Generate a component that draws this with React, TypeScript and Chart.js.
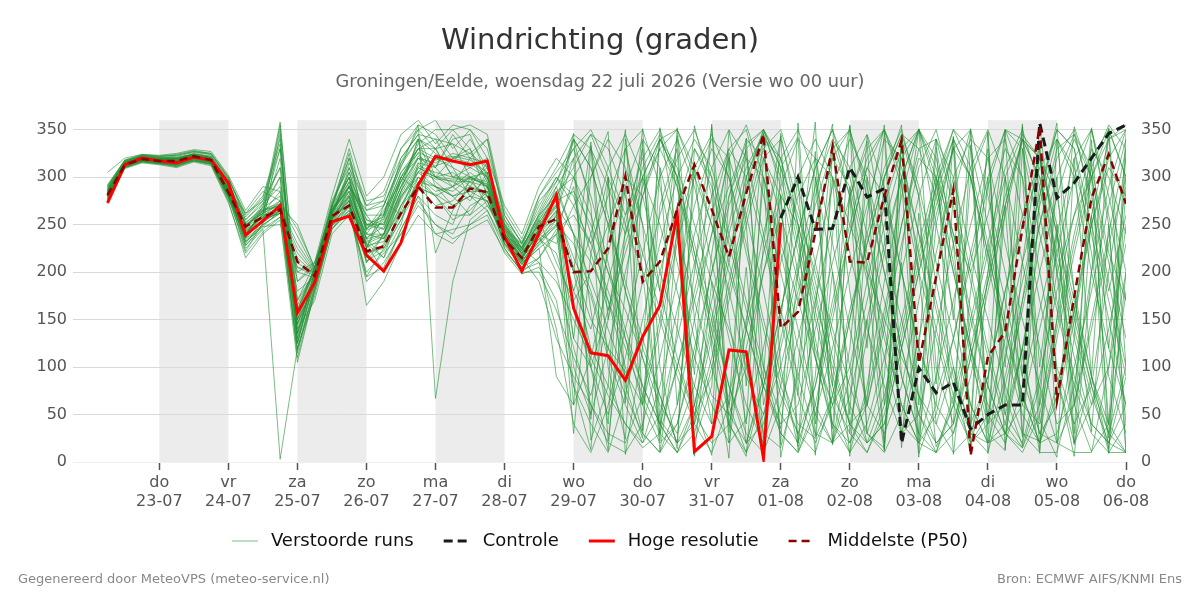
import { useEffect, useRef } from "react";
import { Chart, registerables } from "chart.js";

Chart.register(...registerables);
Chart.defaults.font.family = "'DejaVu Sans', sans-serif";

// Forecast hours since 22-07 00:00, 6-hourly steps
const hours = [
  6, 12, 18, 24, 30, 36, 42, 48, 54, 60,
  66, 72, 78, 84, 90, 96, 102, 108, 114, 120,
  126, 132, 138, 144, 150, 156, 162, 168, 174, 180,
  186, 192, 198, 204, 210, 216, 222, 228, 234, 240,
  246, 252, 258, 264, 270, 276, 282, 288, 294, 300,
  306, 312, 318, 324, 330, 336, 342, 348, 354, 360,
];

// Midnight tick positions and their labels
const dayTicks = [24, 48, 72, 96, 120, 144, 168, 192, 216, 240, 264, 288, 312, 336, 360];
const dayNames = ["do", "vr", "za", "zo", "ma", "di", "wo", "do", "vr", "za", "zo", "ma", "di", "wo", "do"];
const dayDates = ["23-07", "24-07", "25-07", "26-07", "27-07", "28-07", "29-07", "30-07", "31-07", "01-08", "02-08", "03-08", "04-08", "05-08", "06-08"];

// Alternating grey day bands (start hour, end hour)
const shadedSpans: [number, number][] = [
  [24, 48], [72, 96], [120, 144], [168, 192], [216, 240], [264, 288], [312, 336],
];

// High resolution run (until 01-08 00:00)
const hiRes = [
  273, 313, 320, 317, 315, 321, 318, 294, 239, 254,
  270, 157, 189, 253, 259, 218, 201, 231, 292, 322,
  317, 313, 317, 237, 201, 241, 281, 162, 115, 112,
  86, 132, 165, 262, 11, 27, 118, 116, 4, 252,
];

// Control run (shown from 01-08 00:00)
const controlHours = [240, 246, 252, 258, 264, 270, 276, 282, 288, 294, 300, 306, 312, 318, 324, 330, 336, 342, 348, 354, 360];
const control = [257, 300, 245, 246, 310, 279, 288, 20, 99, 73, 84, 35, 50, 60, 60, 357, 278, 294, 320, 346, 355];

// Ensemble median
const p50 = [
  281, 313, 319, 317, 317, 322, 318, 284, 248, 258,
  266, 211, 196, 259, 270, 222, 227, 262, 290, 268,
  268, 288, 284, 234, 215, 248, 256, 200, 201, 225,
  301, 190, 211, 266, 313, 266, 216, 283, 345, 141,
  158, 241, 332, 211, 210, 280, 339, 104, 195, 287,
  7, 111, 137, 246, 353, 65, 174, 278, 324, 272,
];

// Perturbed ensemble members
const m01 = [288, 315, 321, 319, 320, 324, 322, 295, 250, 265, 270, 135, 200, 258, 275, 235, 215, 270, 305, 330, 300, 295, 310, 250, 220, 245, 270, 205, 150, 120, 95, 60, 140, 230, 300, 340, 320, 260, 180, 90, 40, 25, 70, 160, 230, 300, 345, 330, 280, 200, 120, 60, 30, 15, 80, 200, 260, 300, 340, 355];
const m02 = [275, 311, 317, 315, 312, 318, 315, 280, 238, 255, 262, 160, 205, 265, 300, 210, 240, 300, 330, 340, 310, 280, 265, 230, 205, 230, 255, 180, 240, 310, 345, 300, 250, 180, 110, 60, 20, 45, 120, 210, 280, 320, 300, 250, 200, 150, 110, 70, 40, 10, 30, 90, 180, 250, 310, 340, 300, 200, 120, 60];
const m03 = [282, 314, 320, 318, 316, 321, 317, 285, 228, 250, 345, 125, 195, 270, 320, 245, 260, 320, 345, 300, 320, 330, 280, 240, 225, 210, 190, 150, 110, 70, 40, 15, 30, 100, 170, 240, 290, 335, 350, 310, 260, 200, 140, 80, 30, 10, 50, 130, 220, 300, 340, 320, 230, 150, 80, 20, 10, 10, 100, 250];
const m04 = [292, 318, 323, 322, 323, 327, 325, 300, 255, 275, 330, 145, 190, 250, 290, 265, 275, 260, 290, 280, 290, 320, 340, 260, 230, 270, 300, 270, 230, 280, 330, 350, 290, 210, 130, 70, 50, 100, 200, 280, 250, 180, 90, 40, 60, 150, 250, 320, 300, 210, 110, 40, 60, 170, 290, 350, 330, 220, 90, 30];
const m05 = [279, 312, 318, 316, 315, 319, 316, 283, 242, 260, 355, 170, 210, 260, 270, 230, 200, 245, 280, 260, 250, 300, 305, 235, 210, 225, 240, 300, 330, 260, 180, 120, 70, 20, 60, 150, 240, 310, 345, 300, 220, 130, 40, 10, 80, 190, 280, 350, 300, 240, 200, 260, 330, 300, 200, 100, 40, 80, 200, 320];
const m06 = [284, 313, 320, 319, 314, 323, 319, 288, 232, 248, 250, 205, 200, 255, 310, 255, 250, 290, 320, 310, 340, 345, 300, 245, 215, 255, 210, 170, 200, 250, 300, 280, 200, 140, 80, 40, 70, 150, 240, 320, 350, 300, 200, 100, 20, 40, 120, 200, 270, 330, 350, 280, 200, 110, 30, 60, 150, 250, 310, 280];
const m07 = [276, 310, 316, 314, 312, 317, 314, 278, 225, 245, 3, 120, 185, 245, 265, 195, 225, 255, 300, 290, 280, 260, 290, 225, 200, 200, 160, 110, 70, 150, 230, 290, 330, 350, 310, 250, 180, 100, 30, 15, 90, 170, 250, 310, 345, 290, 200, 120, 70, 130, 220, 300, 350, 340, 260, 170, 90, 40, 20, 90];
const m08 = [290, 317, 322, 321, 322, 326, 324, 298, 258, 278, 335, 135, 195, 265, 295, 250, 245, 285, 340, 220, 265, 290, 315, 255, 225, 280, 305, 330, 280, 210, 130, 60, 20, 40, 110, 200, 270, 320, 300, 230, 170, 110, 60, 100, 190, 270, 330, 350, 250, 160, 60, 20, 30, 120, 230, 300, 345, 310, 220, 170];
const m09 = [281, 313, 319, 317, 317, 322, 318, 285, 248, 258, 275, 110, 180, 250, 280, 225, 270, 310, 355, 67, 190, 255, 270, 240, 220, 245, 290, 240, 190, 140, 90, 130, 200, 270, 330, 290, 210, 140, 80, 40, 60, 140, 210, 280, 330, 350, 310, 240, 170, 90, 40, 90, 180, 260, 320, 280, 180, 90, 40, 10];
const m10 = [286, 315, 321, 320, 319, 323, 320, 290, 236, 270, 300, 150, 205, 272, 325, 240, 265, 295, 335, 350, 350, 330, 295, 245, 230, 260, 280, 310, 345, 300, 250, 200, 150, 90, 40, 10, 60, 140, 220, 290, 340, 320, 230, 140, 60, 30, 80, 170, 260, 330, 300, 210, 120, 50, 20, 70, 160, 260, 340, 350];
const m11 = [278, 312, 318, 316, 313, 320, 316, 276, 245, 272, 310, 130, 200, 262, 290, 260, 235, 265, 310, 300, 295, 285, 275, 238, 212, 232, 260, 200, 120, 80, 40, 20, 50, 130, 210, 280, 330, 300, 230, 150, 70, 20, 60, 150, 240, 310, 350, 280, 190, 100, 30, 10, 80, 160, 250, 330, 345, 280, 190, 100];
const m12 = [283, 314, 320, 318, 318, 321, 317, 286, 262, 285, 275, 200, 210, 268, 285, 235, 255, 300, 285, 320, 310, 300, 290, 250, 228, 250, 275, 285, 250, 200, 160, 110, 60, 30, 80, 170, 250, 330, 350, 290, 200, 110, 40, 20, 70, 160, 250, 330, 340, 270, 190, 110, 40, 15, 60, 150, 240, 320, 350, 300];
const m13 = [280, 313, 319, 317, 316, 320, 318, 282, 222, 252, 265, 140, 170, 240, 260, 200, 220, 240, 270, 250, 240, 270, 280, 230, 215, 190, 130, 90, 60, 30, 20, 70, 150, 240, 310, 345, 300, 220, 140, 70, 30, 80, 170, 250, 320, 350, 290, 200, 130, 60, 20, 40, 110, 190, 270, 340, 310, 240, 150, 60];
const m14 = [287, 316, 322, 320, 321, 324, 321, 292, 252, 268, 358, 160, 200, 270, 300, 260, 260, 305, 330, 330, 300, 310, 320, 242, 222, 262, 295, 330, 350, 310, 260, 300, 340, 310, 250, 190, 140, 90, 50, 100, 180, 250, 320, 290, 210, 130, 60, 20, 50, 130, 210, 290, 350, 330, 240, 160, 80, 30, 10, 40];
const m15 = [277, 311, 317, 315, 311, 319, 315, 280, 240, 262, 285, 125, 190, 255, 275, 210, 230, 280, 300, 280, 255, 265, 285, 235, 208, 235, 250, 230, 180, 120, 70, 30, 10, 40, 120, 200, 280, 340, 320, 260, 190, 120, 60, 10, 40, 110, 200, 280, 340, 300, 220, 150, 80, 30, 10, 10, 80, 200, 290, 350];
const m16 = [289, 317, 323, 321, 320, 325, 322, 296, 248, 265, 270, 180, 195, 268, 320, 275, 280, 320, 345, 340, 335, 300, 270, 248, 218, 240, 230, 270, 300, 340, 310, 250, 180, 110, 50, 20, 40, 120, 200, 260, 300, 340, 300, 220, 140, 80, 30, 50, 140, 230, 310, 350, 300, 210, 120, 40, 60, 140, 230, 300];
const m17 = [282, 314, 319, 318, 315, 322, 318, 284, 230, 255, 268, 115, 185, 252, 270, 230, 215, 250, 315, 310, 290, 275, 305, 228, 205, 215, 240, 130, 100, 160, 220, 280, 330, 290, 220, 150, 80, 30, 10, 60, 130, 210, 290, 340, 300, 220, 150, 70, 20, 40, 120, 200, 280, 340, 320, 250, 170, 90, 30, 10];
const m18 = [285, 315, 321, 319, 319, 323, 319, 288, 244, 258, 320, 145, 200, 260, 305, 250, 250, 295, 330, 310, 345, 320, 300, 244, 226, 258, 285, 300, 260, 200, 140, 80, 40, 100, 180, 260, 330, 350, 280, 200, 120, 50, 20, 70, 150, 230, 300, 350, 310, 230, 150, 80, 30, 60, 140, 220, 300, 350, 260, 170];
const m19 = [280, 312, 318, 317, 317, 321, 317, 281, 235, 250, 262, 155, 205, 258, 280, 240, 235, 270, 290, 270, 275, 295, 280, 238, 215, 235, 220, 160, 100, 50, 110, 190, 260, 320, 350, 300, 230, 160, 90, 30, 10, 60, 150, 240, 310, 280, 200, 120, 60, 30, 90, 180, 260, 340, 300, 210, 130, 60, 100, 200];
const m20 = [290, 317, 323, 322, 324, 328, 325, 300, 260, 280, 340, 135, 195, 268, 330, 265, 270, 315, 350, 360, 330, 350, 330, 260, 230, 275, 295, 340, 310, 250, 190, 130, 70, 20, 40, 110, 190, 270, 340, 320, 250, 170, 100, 40, 10, 50, 130, 210, 290, 350, 310, 230, 150, 70, 20, 30, 100, 180, 270, 340];
const m21 = [274, 310, 316, 314, 311, 317, 313, 275, 215, 240, 255, 105, 180, 245, 270, 195, 205, 245, 280, 240, 230, 250, 260, 220, 198, 205, 170, 80, 40, 10, 70, 150, 230, 300, 340, 310, 240, 170, 100, 50, 20, 80, 160, 240, 310, 350, 300, 220, 140, 70, 20, 50, 130, 210, 280, 350, 330, 250, 170, 90];
const m22 = [283, 314, 320, 318, 317, 322, 318, 286, 238, 262, 350, 140, 195, 262, 300, 225, 260, 305, 325, 300, 290, 305, 290, 244, 220, 250, 270, 240, 210, 170, 120, 70, 30, 10, 60, 140, 220, 300, 350, 310, 230, 150, 70, 30, 10, 60, 140, 220, 290, 340, 300, 220, 140, 60, 40, 130, 220, 300, 350, 300];
const m23 = [288, 316, 322, 320, 320, 324, 321, 294, 255, 272, 290, 170, 200, 265, 290, 255, 245, 290, 340, 325, 315, 340, 310, 252, 225, 260, 290, 320, 345, 330, 280, 220, 160, 100, 50, 90, 170, 250, 320, 340, 270, 190, 110, 40, 20, 70, 150, 230, 300, 350, 330, 250, 170, 90, 30, 20, 60, 150, 240, 330];
const m24 = [279, 312, 318, 316, 314, 319, 316, 280, 246, 268, 280, 150, 185, 255, 285, 245, 270, 315, 340, 290, 270, 280, 300, 236, 210, 238, 200, 120, 60, 20, 10, 40, 110, 190, 270, 330, 300, 230, 150, 80, 30, 10, 70, 150, 230, 300, 345, 290, 210, 130, 60, 20, 40, 120, 200, 280, 340, 300, 210, 130];
const m25 = [284, 313, 320, 319, 318, 323, 320, 287, 250, 262, 330, 160, 205, 270, 315, 270, 275, 330, 355, 345, 320, 325, 340, 255, 232, 265, 300, 280, 220, 160, 240, 310, 345, 290, 210, 130, 50, 20, 80, 160, 240, 310, 350, 300, 220, 140, 60, 20, 10, 70, 150, 230, 310, 350, 290, 200, 110, 40, 20, 60];
const m26 = [286, 315, 321, 319, 320, 324, 320, 290, 240, 252, 272, 125, 195, 258, 280, 220, 225, 260, 295, 280, 260, 260, 275, 232, 212, 228, 250, 180, 140, 220, 290, 340, 310, 240, 170, 100, 40, 10, 50, 130, 210, 290, 340, 310, 240, 170, 90, 30, 10, 60, 140, 220, 300, 345, 320, 240, 150, 80, 30, 100];
const m27 = [281, 313, 319, 317, 316, 321, 317, 283, 232, 248, 265, 145, 190, 250, 265, 215, 240, 285, 320, 300, 305, 290, 285, 240, 214, 242, 265, 215, 175, 110, 60, 20, 80, 160, 240, 310, 350, 320, 240, 160, 90, 30, 20, 90, 170, 250, 320, 350, 290, 200, 120, 50, 20, 80, 160, 240, 320, 350, 280, 200];
const m28 = [277, 311, 317, 315, 313, 318, 314, 279, 240, 265, 300, 130, 188, 256, 290, 235, 240, 280, 305, 290, 285, 300, 290, 236, 208, 225, 90, 60, 110, 190, 260, 320, 350, 300, 230, 160, 80, 20, 40, 120, 200, 270, 330, 350, 280, 200, 120, 50, 20, 40, 110, 190, 270, 340, 320, 240, 160, 80, 10, 10];
const m29 = [291, 318, 324, 322, 323, 327, 324, 298, 262, 275, 310, 190, 205, 275, 310, 270, 285, 330, 350, 330, 350, 355, 345, 265, 235, 280, 310, 345, 330, 290, 240, 300, 340, 350, 300, 250, 200, 140, 80, 30, 10, 50, 120, 200, 270, 340, 320, 240, 160, 80, 30, 20, 90, 170, 250, 320, 350, 270, 180, 260];
const m30 = [280, 312, 319, 317, 316, 321, 317, 283, 236, 255, 265, 120, 175, 248, 275, 165, 190, 230, 260, 240, 245, 250, 265, 225, 200, 215, 245, 260, 230, 180, 130, 80, 40, 10, 30, 100, 180, 260, 330, 350, 290, 210, 130, 60, 20, 40, 120, 200, 280, 340, 300, 220, 140, 70, 20, 80, 160, 250, 320, 350];
const m31 = [305, 320, 324, 323, 325, 329, 327, 302, 265, 290, 285, 190, 210, 280, 340, 280, 300, 345, 360, 335, 355, 350, 320, 270, 240, 290, 320, 300, 240, 170, 100, 30, 10, 60, 150, 240, 320, 355, 300, 220, 140, 60, 20, 40, 130, 220, 300, 350, 320, 240, 160, 80, 30, 10, 50, 140, 230, 310, 355, 330];
const m32 = [272, 309, 315, 313, 310, 316, 312, 273, 220, 242, 258, 118, 182, 246, 262, 190, 210, 240, 275, 250, 235, 245, 255, 222, 202, 210, 140, 40, 10, 60, 140, 220, 300, 340, 290, 210, 130, 60, 20, 80, 170, 250, 320, 350, 290, 200, 120, 50, 10, 30, 110, 190, 270, 340, 300, 220, 140, 70, 20, 10];
const m33 = [283, 313, 319, 317, 315, 321, 317, 285, 245, 257, 268, 150, 198, 260, 285, 240, 240, 285, 315, 295, 280, 285, 285, 240, 216, 240, 260, 340, 310, 250, 180, 110, 40, 10, 50, 130, 210, 290, 350, 320, 240, 160, 80, 20, 60, 140, 230, 310, 350, 280, 200, 120, 50, 20, 90, 180, 260, 330, 300, 240];
const m34 = [285, 314, 320, 318, 318, 322, 319, 287, 250, 262, 272, 165, 203, 263, 295, 250, 258, 300, 330, 320, 320, 315, 300, 247, 223, 252, 280, 100, 50, 120, 200, 280, 340, 300, 220, 140, 60, 10, 80, 160, 240, 310, 350, 280, 190, 110, 40, 20, 90, 170, 250, 320, 340, 260, 170, 90, 20, 60, 140, 230];
const m35 = [280, 313, 318, 316, 316, 320, 316, 284, 236, 256, 262, 215, 198, 256, 272, 228, 232, 270, 300, 285, 290, 300, 292, 238, 214, 244, 262, 320, 45, 300, 62, 338, 22, 250, 92, 356, 31, 205, 8, 282, 70, 327, 18, 290, 120, 347, 15, 262, 82, 342, 33, 300, 100, 353, 12, 240, 60, 318, 25, 290];
const m36 = [283, 314, 320, 318, 316, 322, 318, 286, 241, 260, 268, 230, 202, 262, 290, 236, 248, 290, 322, 312, 318, 310, 300, 243, 219, 248, 272, 60, 333, 100, 24, 300, 180, 344, 40, 220, 326, 80, 300, 18, 357, 110, 35, 280, 338, 60, 210, 5, 300, 150, 349, 42, 270, 26, 331, 90, 6, 200, 352, 100];
const m37 = [285, 315, 321, 319, 318, 323, 319, 288, 247, 264, 275, 245, 205, 266, 305, 248, 262, 312, 340, 330, 335, 325, 310, 250, 224, 255, 285, 240, 100, 12, 250, 330, 44, 20, 310, 120, 4, 341, 60, 150, 300, 27, 240, 355, 30, 90, 336, 200, 16, 60, 300, 347, 50, 120, 9, 339, 180, 32, 250, 40];
const m38 = [278, 312, 317, 315, 314, 318, 315, 281, 233, 250, 262, 205, 196, 252, 268, 220, 228, 262, 295, 290, 280, 290, 280, 234, 211, 238, 255, 200, 337, 150, 290, 33, 352, 240, 60, 7, 280, 328, 100, 35, 200, 358, 22, 120, 300, 13, 345, 60, 250, 332, 21, 80, 350, 300, 44, 5, 320, 90, 14, 200];
const m39 = [284, 314, 319, 318, 317, 321, 318, 285, 243, 258, 266, 225, 200, 258, 282, 232, 240, 282, 312, 305, 300, 300, 295, 240, 217, 246, 268, 346, 23, 80, 330, 250, 11, 140, 354, 280, 40, 6, 230, 343, 20, 160, 337, 280, 30, 15, 220, 351, 100, 40, 334, 9, 160, 356, 60, 300, 30, 339, 120, 300];
const m40 = [287, 316, 322, 320, 320, 324, 320, 291, 252, 266, 272, 238, 203, 263, 292, 244, 252, 296, 326, 318, 322, 318, 305, 246, 222, 252, 278, 130, 300, 348, 80, 25, 310, 60, 200, 353, 150, 40, 320, 280, 12, 90, 300, 50, 344, 240, 30, 120, 340, 8, 180, 330, 70, 17, 280, 357, 60, 11, 40, 346];
const m41 = [281, 313, 319, 317, 315, 321, 317, 283, 238, 254, 264, 210, 197, 255, 276, 226, 236, 276, 306, 298, 296, 295, 290, 238, 213, 243, 258, 30, 220, 300, 8, 120, 340, 300, 21, 80, 349, 250, 24, 310, 342, 40, 200, 6, 260, 355, 90, 30, 331, 230, 40, 348, 13, 210, 336, 20, 130, 352, 250, 10];
const m42 = [276, 310, 316, 314, 313, 317, 314, 279, 228, 246, 258, 200, 194, 249, 262, 212, 222, 255, 288, 282, 270, 280, 275, 230, 208, 232, 248, 290, 160, 40, 340, 200, 30, 352, 150, 40, 320, 19, 90, 346, 250, 7, 330, 180, 60, 300, 355, 23, 190, 343, 120, 20, 300, 90, 354, 200, 18, 260, 9, 330];
const m43 = [286, 315, 321, 319, 319, 323, 319, 289, 249, 262, 270, 250, 204, 264, 300, 246, 256, 300, 320, 315, 325, 320, 315, 248, 226, 256, 276, 340, 270, 22, 180, 351, 100, 14, 330, 300, 20, 140, 347, 5, 100, 280, 356, 30, 150, 11, 340, 280, 40, 100, 8, 200, 349, 30, 22, 150, 353, 300, 40, 180];
const m44 = [282, 314, 320, 318, 317, 322, 318, 285, 241, 257, 265, 220, 199, 257, 278, 230, 238, 278, 310, 300, 298, 298, 293, 240, 216, 244, 264, 80, 13, 240, 350, 60, 270, 330, 6, 190, 60, 300, 345, 100, 16, 300, 80, 354, 200, 20, 300, 9, 60, 280, 351, 30, 12, 330, 100, 250, 20, 90, 348, 10];

const members = [
  m01, m02, m03, m04, m05, m06, m07, m08, m09, m10,
  m11, m12, m13, m14, m15, m16, m17, m18, m19, m20,
  m21, m22, m23, m24, m25, m26, m27, m28, m29, m30,
  m31, m32, m33, m34, m35, m36, m37, m38, m39, m40,
  m41, m42, m43, m44,
];

const toPoints = (xs: number[], ys: number[]) =>
  ys.slice(0, xs.length).map((y, i) => ({ x: xs[i], y }));

const bandPlugin = {
  id: "dayBands",
  beforeDraw(chart: any) {
    const { ctx, chartArea, scales } = chart;
    ctx.save();
    ctx.fillStyle = "#ececec";
    for (const [a, b] of shadedSpans) {
      const x1 = scales.x.getPixelForValue(a);
      const x2 = scales.x.getPixelForValue(b);
      ctx.fillRect(x1, chartArea.top, x2 - x1, chartArea.bottom - chartArea.top);
    }
    ctx.restore();
  },
};

// Legend row: one entry for the ensemble plus the three single runs,
// styled from the datasets themselves
const makeLegendPlugin = (entryIndices: number[]) => ({
  id: "legendRow",
  afterDraw(chart: any) {
    const { ctx } = chart;
    const ds = chart.data.datasets;
    const lineLen = 26;
    const gap = 13;
    const spacing = 30;
    const y = 541;
    ctx.save();
    ctx.font = "18px 'DejaVu Sans', sans-serif";
    ctx.textBaseline = "middle";
    ctx.textAlign = "left";
    const widths = entryIndices.map((i) => ctx.measureText(ds[i].label).width);
    const total =
      widths.reduce((s, w) => s + lineLen + gap + w, 0) + spacing * (entryIndices.length - 1);
    let x = 600 - total / 2;
    entryIndices.forEach((i, k) => {
      const d = ds[i];
      ctx.beginPath();
      ctx.strokeStyle = d.borderColor;
      ctx.lineWidth = d.borderWidth;
      ctx.setLineDash(d.borderDash || []);
      ctx.moveTo(x, y);
      ctx.lineTo(x + lineLen, y);
      ctx.stroke();
      ctx.setLineDash([]);
      ctx.fillStyle = "#111";
      ctx.fillText(d.label, x + lineLen + gap, y);
      x += lineLen + gap + widths[k] + spacing;
    });
    ctx.restore();
  },
});

const footerPlugin = {
  id: "footerText",
  afterDraw(chart: any) {
    const { ctx } = chart;
    ctx.save();
    ctx.font = "13px 'DejaVu Sans', sans-serif";
    ctx.fillStyle = "#888";
    ctx.textBaseline = "middle";
    ctx.textAlign = "left";
    ctx.fillText("Gegenereerd door MeteoVPS (meteo-service.nl)", 18, 580);
    ctx.textAlign = "right";
    ctx.fillText("Bron: ECMWF AIFS/KNMI Ens", 1182, 580);
    ctx.restore();
  },
};

export default function App() {
  const canvasRef = useRef<HTMLCanvasElement>(null);

  useEffect(() => {
    const n = members.length;
    const datasets: any[] = members.map((m) => ({
      label: "Verstoorde runs",
      data: toPoints(hours, m),
      borderColor: "rgba(34,145,52,0.6)",
      backgroundColor: "rgba(34,145,52,0.6)",
      borderWidth: 1,
      pointRadius: 0,
      order: 3,
    }));
    datasets.push({
      label: "Controle",
      data: toPoints(controlHours, control),
      borderColor: "#1a1a1a",
      backgroundColor: "#1a1a1a",
      borderWidth: 3,
      borderDash: [9, 5],
      pointRadius: 0,
      order: 1,
    });
    datasets.push({
      label: "Hoge resolutie",
      data: toPoints(hours, hiRes),
      borderColor: "#ff0000",
      backgroundColor: "#ff0000",
      borderWidth: 3,
      pointRadius: 0,
      order: 2,
    });
    datasets.push({
      label: "Middelste (P50)",
      data: toPoints(hours, p50),
      borderColor: "#8b0000",
      backgroundColor: "#8b0000",
      borderWidth: 2.5,
      borderDash: [8, 5],
      pointRadius: 0,
      order: 0,
    });

    const tickFont = { size: 16 };
    const chart = new Chart(canvasRef.current!, {
      type: "line",
      data: { datasets },
      plugins: [bandPlugin, makeLegendPlugin([0, n, n + 1, n + 2]), footerPlugin],
      options: {
        responsive: false,
        animation: false,
        devicePixelRatio: 1,
        layout: { padding: { left: 0, right: 0, top: 0, bottom: 76 } },
        scales: {
          x: {
            type: "linear",
            min: -6,
            max: 360,
            afterBuildTicks: (s: any) => {
              s.ticks = dayTicks.map((v) => ({ value: v }));
            },
            afterFit: (s: any) => {
              s.height = 62;
            },
            ticks: {
              autoSkip: false,
              maxRotation: 0,
              color: "#555",
              font: tickFont,
              padding: 3,
              callback: (_v: any, i: number) => [dayNames[i], dayDates[i]],
            },
            grid: {
              display: true,
              drawOnChartArea: false,
              drawTicks: true,
              tickLength: 8,
              tickColor: "#555",
              tickWidth: 1.5,
            },
            border: { display: false },
          },
          y: {
            position: "left",
            min: 0,
            max: 360,
            afterFit: (s: any) => {
              s.width = 73;
            },
            ticks: { stepSize: 50, includeBounds: false, color: "#555", font: tickFont, padding: 6 },
            grid: {
              drawTicks: false,
              color: (c: any) => (c.tick && c.tick.value === 0 ? "#f0f0f0" : "#d9d9d9"),
            },
            border: { display: false },
          },
          y2: {
            position: "right",
            min: 0,
            max: 360,
            afterFit: (s: any) => {
              s.width = 74;
            },
            ticks: { stepSize: 50, includeBounds: false, color: "#555", font: tickFont, padding: 7 },
            grid: { display: false },
            border: { display: false },
          },
        },
        plugins: {
          title: {
            display: true,
            text: "Windrichting (graden)",
            color: "#333",
            font: { size: 29, weight: "normal" },
            padding: { top: 24, bottom: 0 },
          },
          subtitle: {
            display: true,
            text: "Groningen/Eelde, woensdag 22 juli 2026 (Versie wo 00 uur)",
            color: "#666",
            font: { size: 17.8, weight: "normal" },
            padding: { top: 13, bottom: 27 },
          },
          legend: { display: false },
          tooltip: { enabled: false },
        },
      } as any,
    });
    return () => chart.destroy();
  }, []);

  return (
    <div style={{ position: "absolute", left: 0, top: 0, width: 1200, height: 600, background: "#fff" }}>
      <canvas ref={canvasRef} width={1200} height={600} style={{ width: 1200, height: 600 }} />
    </div>
  );
}
